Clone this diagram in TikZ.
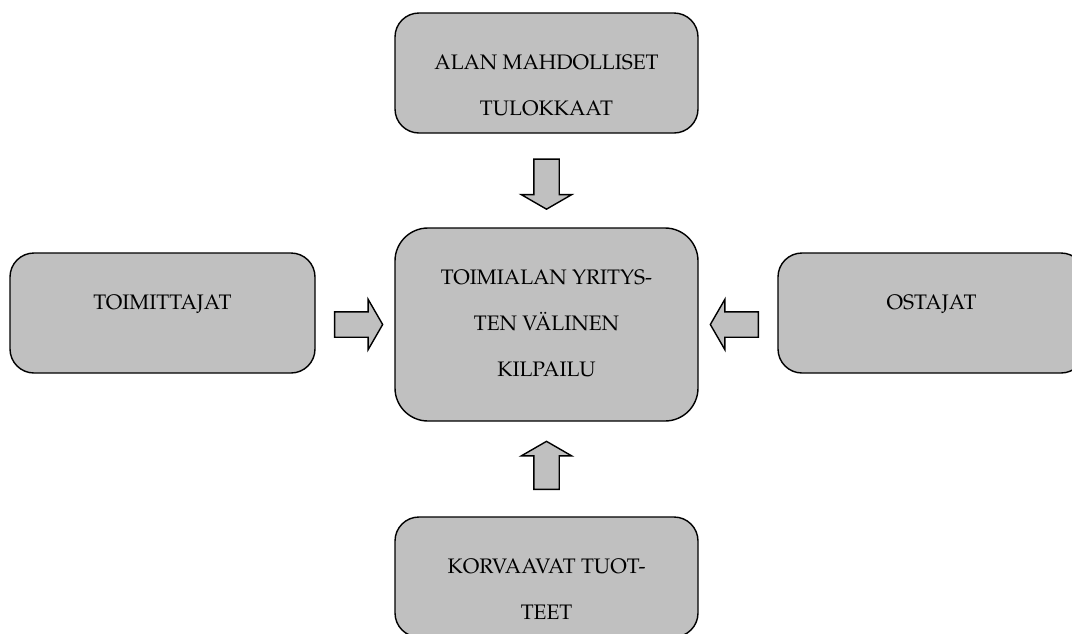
\documentclass[tikz,border=0pt]{standalone}
\usepackage[T1]{fontenc}
\renewcommand{\rmdefault}{ppl}
\usetikzlibrary{shapes.arrows,calc}
\definecolor{boxgray}{HTML}{C0C0C0}
\tikzset{
  panel/.style={draw=black, fill=boxgray, line width=1.4pt, rounded corners=24pt,
    minimum width=303pt, minimum height=120pt, inner sep=0pt},
  lbl/.style={align=center, inner sep=0pt, anchor=north,
    font=\fontsize{21}{46}\selectfont},
  blockarrow/.style={single arrow, draw=black, fill=boxgray, line width=1.4pt,
    inner xsep=0pt, inner ysep=12pt, minimum height=48pt,
    single arrow head extend=12.5pt, single arrow tip angle=120}
}
\begin{document}
\begin{tikzpicture}[x=1pt, y=-1pt]
\useasboundingbox (0,0) rectangle (1072,633);
\clip (0,0) rectangle (1072,633);

% the five forces
\node[panel] (entrants) at (546.5,73) {};
\node[panel, minimum height=193pt, rounded corners=33pt] (rivalry) at (546.5,324.5) {};
\node[panel, minimum width=305pt] (suppliers) at (162.5,313) {};
\node[panel, minimum width=307pt] (buyers) at (931.5,313) {};
\node[panel] (substitutes) at (546.5,577) {};

\node[lbl] at ([yshift=-42pt]entrants.north) {ALAN MAHDOLLISET\\TULOKKAAT};
\node[lbl] at ([yshift=-42pt]rivalry.north) {TOIMIALAN YRITYS-\\TEN V\"ALINEN\\KILPAILU};
\node[lbl] at ([yshift=-42pt]suppliers.north) {TOIMITTAJAT};
\node[lbl] at ([yshift=-42pt]buyers.north) {OSTAJAT};
\node[lbl] at ([yshift=-42pt]substitutes.north) {KORVAAVAT TUOT-\\TEET};

% block arrows pointing at the central box
\coordinate (gl) at ($(suppliers.east)!0.5!(rivalry.west)$);
\coordinate (gr) at ($(rivalry.east)!0.5!(buyers.west)$);
\node[blockarrow, rotate=-90, minimum height=50pt] (aTop) at ($(entrants.south)!0.5!(rivalry.north)$) {};
\node[blockarrow] (aLeft) at (gl |- rivalry) {};
\node[blockarrow, rotate=180] (aRight) at (gr |- rivalry) {};
\node[blockarrow, rotate=90] (aBottom) at ($(rivalry.south)!0.5!(substitutes.north)$) {};
\end{tikzpicture}
\end{document}
